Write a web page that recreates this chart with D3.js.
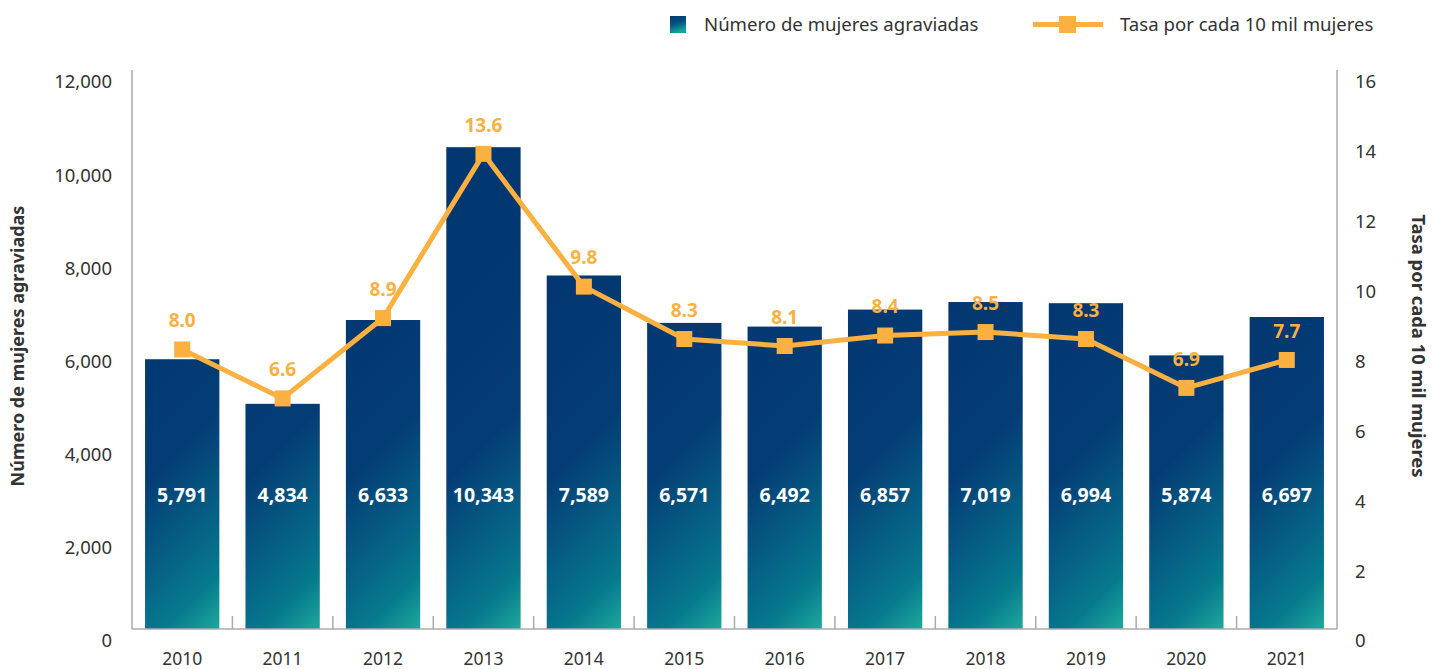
<!DOCTYPE html>
<html>
<head>
<meta charset="utf-8">
<script src="https://cdn.jsdelivr.net/npm/d3@7"></script>
<style>
  body { margin: 0; background: #fff; }
  svg { display: block; font-family: "Noto Sans", sans-serif; }
</style>
</head>
<body>
<svg id="chart" width="1432" height="669"></svg>
<script>
// data
var years = ["2010","2011","2012","2013","2014","2015","2016","2017","2018","2019","2020","2021"];
var mujeres = [5791, 4834, 6633, 10343, 7589, 6571, 6492, 6857, 7019, 6994, 5874, 6697];
var tasa = [8.0, 6.6, 8.9, 13.6, 9.8, 8.3, 8.1, 8.4, 8.5, 8.3, 6.9, 7.7];
var leftTicks = [0, 2000, 4000, 6000, 8000, 10000, 12000];
var rightTicks = [0, 2, 4, 6, 8, 10, 12, 14, 16];

var orange = "#fbb03f";
var axisGray = "#ababab";
var textColor = "#333";
var gradStops = [[0, "#033771"], [0.45, "#043d75"], [0.72, "#066487"], [0.86, "#067a8d"], [1, "#1ea89c"]];

var plotLeft = 132, plotRight = 1337, plotTop = 70, plotBottom = 629;
var labelShift = 12; // tick labels sit a bit below their tick in the original

var svg = d3.select("#chart");
var defs = svg.append("defs");

var x = d3.scaleBand()
    .domain(years)
    .range([plotLeft, plotRight])
    .paddingInner(0.26)
    .paddingOuter(0.13);

var yL = d3.scaleLinear().domain([0, 12000]).range([plotBottom, plotTop]);
var yR = d3.scaleLinear().domain([0, 16]).range([plotBottom, plotTop]);

//one diagonal gradient per bar, anchored to the bottom right corner
var s = 200;
years.forEach(function(yr, i){
    var g = defs.append("linearGradient")
        .attr("id", "barGrad" + i)
        .attr("gradientUnits", "userSpaceOnUse")
        .attr("x1", x(yr) + x.bandwidth() - s).attr("y1", plotBottom - s)
        .attr("x2", x(yr) + x.bandwidth()).attr("y2", plotBottom);
    gradStops.forEach(function(st){
        g.append("stop").attr("offset", st[0]).attr("stop-color", st[1]);
    });
});
var lgGrad = defs.append("linearGradient")
    .attr("id", "legendGrad")
    .attr("x1", 0).attr("y1", 0).attr("x2", 0.3).attr("y2", 1);
[[0, "#033771"], [0.5, "#05517f"], [1, "#12a39a"]].forEach(function(st){
    lgGrad.append("stop").attr("offset", st[0]).attr("stop-color", st[1]);
});

//bars
svg.selectAll("rect.bar")
    .data(mujeres)
    .enter()
    .append("rect")
    .attr("class", "bar")
    .attr("x", function(d, i){ return x(years[i]); })
    .attr("y", function(d){ return yL(d); })
    .attr("width", x.bandwidth())
    .attr("height", function(d){ return yL(0) - yL(d); })
    .attr("fill", function(d, i){ return "url(#barGrad" + i + ")"; });

//value labels inside bars
svg.selectAll("text.barlabel")
    .data(mujeres)
    .enter()
    .append("text")
    .attr("class", "barlabel")
    .attr("x", function(d, i){ return x(years[i]) + x.bandwidth() / 2; })
    .attr("y", yL(2870))
    .attr("dy", "0.35em")
    .attr("text-anchor", "middle")
    .attr("fill", "#fff")
    .attr("font-weight", "bold")
    .attr("font-size", 19.5)
    .text(function(d){ return d3.format(",")(d); });

//axes lines
var axisG = svg.append("g").attr("stroke", axisGray).attr("stroke-width", 1.5);
axisG.append("line").attr("x1", plotLeft).attr("x2", plotLeft).attr("y1", plotTop).attr("y2", plotBottom);
axisG.append("line").attr("x1", plotRight).attr("x2", plotRight).attr("y1", plotTop).attr("y2", plotBottom);
axisG.append("line").attr("x1", plotLeft).attr("x2", plotRight).attr("y1", plotBottom).attr("y2", plotBottom);

//category boundary ticks
var half = x.step() * x.paddingInner() / 2;
var bounds = years.slice(1).map(function(y){ return x(y) - half; });
axisG.selectAll("line.ctick")
    .data(bounds)
    .enter()
    .append("line")
    .attr("class", "ctick")
    .attr("x1", function(d){ return d; })
    .attr("x2", function(d){ return d; })
    .attr("y1", plotBottom)
    .attr("y2", plotBottom - 13);

//left tick labels
svg.selectAll("text.lt")
    .data(leftTicks)
    .enter()
    .append("text")
    .attr("class", "lt")
    .attr("x", plotLeft - 20)
    .attr("y", function(d){ return yL(d) + labelShift; })
    .attr("dy", "0.35em")
    .attr("text-anchor", "end")
    .attr("fill", textColor)
    .attr("font-size", 18.5)
    .text(function(d){ return d3.format(",")(d); });

//right tick labels
svg.selectAll("text.rt")
    .data(rightTicks)
    .enter()
    .append("text")
    .attr("class", "rt")
    .attr("x", plotRight + 18)
    .attr("y", function(d){ return yR(d) + labelShift; })
    .attr("dy", "0.35em")
    .attr("text-anchor", "start")
    .attr("fill", textColor)
    .attr("font-size", 18.5)
    .text(function(d){ return d; });

//year labels
svg.selectAll("text.yr")
    .data(years)
    .enter()
    .append("text")
    .attr("class", "yr")
    .attr("x", function(d){ return x(d) + x.bandwidth() / 2; })
    .attr("y", plotBottom + 30)
    .attr("dy", "0.35em")
    .attr("text-anchor", "middle")
    .attr("fill", textColor)
    .attr("font-size", 17.5)
    .text(function(d){ return d; });

//axis titles
var midY = 346;
svg.append("text")
    .attr("transform", "translate(18," + midY + ") rotate(-90)")
    .attr("dy", "0.35em")
    .attr("text-anchor", "middle")
    .attr("fill", textColor)
    .attr("font-weight", "bold")
    .attr("font-size", 18)
    .text("Número de mujeres agraviadas");

svg.append("text")
    .attr("transform", "translate(1418," + midY + ") rotate(90)")
    .attr("dy", "0.35em")
    .attr("text-anchor", "middle")
    .attr("fill", textColor)
    .attr("font-weight", "bold")
    .attr("font-size", 18.4)
    .text("Tasa por cada 10 mil mujeres");

//rate line
var line = d3.line()
    .x(function(d, i){ return x(years[i]) + x.bandwidth() / 2; })
    .y(function(d){ return yR(d); });

svg.append("path")
    .datum(tasa)
    .attr("d", line)
    .attr("fill", "none")
    .attr("stroke", orange)
    .attr("stroke-width", 5)
    .attr("stroke-linejoin", "round");

var ms = 16;
svg.selectAll("rect.marker")
    .data(tasa)
    .enter()
    .append("rect")
    .attr("class", "marker")
    .attr("x", function(d, i){ return x(years[i]) + x.bandwidth() / 2 - ms / 2; })
    .attr("y", function(d){ return yR(d) - ms / 2; })
    .attr("width", ms)
    .attr("height", ms)
    .attr("fill", orange);

svg.selectAll("text.rate")
    .data(tasa)
    .enter()
    .append("text")
    .attr("class", "rate")
    .attr("x", function(d, i){ return x(years[i]) + x.bandwidth() / 2; })
    .attr("y", function(d){ return yR(d) - 29; })
    .attr("dy", "0.35em")
    .attr("text-anchor", "middle")
    .attr("fill", orange)
    .attr("font-weight", "bold")
    .attr("font-size", 19)
    .text(function(d){ return d3.format(".1f")(d); });

//legend
var lg = svg.append("g");
lg.append("rect")
    .attr("x", 670).attr("y", 16).attr("width", 16).attr("height", 17)
    .attr("fill", "url(#legendGrad)");
lg.append("text")
    .attr("x", 704).attr("y", 24.5).attr("dy", "0.35em")
    .attr("fill", textColor).attr("font-size", 18.6)
    .text("Número de mujeres agraviadas");
lg.append("line")
    .attr("x1", 1033).attr("x2", 1103).attr("y1", 24.5).attr("y2", 24.5)
    .attr("stroke", orange).attr("stroke-width", 5);
lg.append("rect")
    .attr("x", 1059).attr("y", 16).attr("width", 17).attr("height", 17)
    .attr("fill", orange);
lg.append("text")
    .attr("x", 1120).attr("y", 24.5).attr("dy", "0.35em")
    .attr("fill", textColor).attr("font-size", 18.6)
    .text("Tasa por cada 10 mil mujeres");
</script>
</body>
</html>
